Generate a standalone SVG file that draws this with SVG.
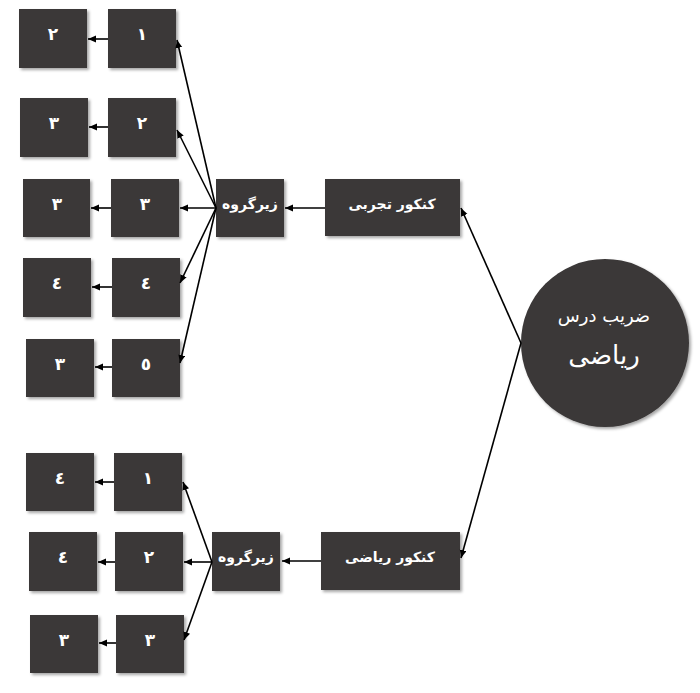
<svg xmlns="http://www.w3.org/2000/svg" width="700" height="693" viewBox="0 0 700 693">
<defs>
<filter id="sh" x="-20%" y="-20%" width="150%" height="150%">
<feDropShadow dx="2" dy="2" stdDeviation="1.8" flood-color="#000" flood-opacity="0.35"/>
</filter>
<marker id="ah" markerWidth="9" markerHeight="8" refX="8" refY="3.5" orient="auto" markerUnits="userSpaceOnUse">
<path d="M0,0 L8,3.5 L0,7 z" fill="#000"/>
</marker>
<style>
.b{fill:#3a3737;filter:url(#sh)}
.t{fill:#fff;font-family:"DejaVu Sans",sans-serif;font-weight:bold;font-size:14px;text-anchor:middle}
.d{fill:#fff;font-family:"DejaVu Sans",sans-serif;font-weight:bold;font-size:17px;text-anchor:middle}
.c line{stroke:#000;stroke-width:1.6;marker-end:url(#ah)}
.ct{fill:#fff;font-family:"DejaVu Sans",sans-serif;text-anchor:middle}
</style>
</defs>
<rect width="700" height="693" fill="#fff"/>

<g id="root">
<circle cx="605" cy="343" r="84" fill="#3a3737" filter="url(#sh)"/>
<text class="ct" x="604" y="322" font-size="18" direction="rtl">ضریب درس</text>
<text class="ct" x="604" y="364" font-size="26" direction="rtl">ریاضی</text>
</g>

<g id="tajrobi"><rect class="b" x="325" y="179" width="135" height="57"/><text class="t" x="392" y="209" direction="rtl">کنکور تجربی</text></g>
<g id="riazi"><rect class="b" x="321" y="532" width="139" height="58"/><text class="t" x="390" y="562" direction="rtl">کنکور ریاضی</text></g>

<g id="zir1"><rect class="b" x="216" y="179" width="68" height="58"/><text class="t" x="250" y="209" direction="rtl">زیرگروه</text></g>
<g id="zir2"><rect class="b" x="212" y="532" width="68" height="59"/><text class="t" x="246" y="562" direction="rtl">زیرگروه</text></g>

<g id="t1"><rect class="b" x="108" y="9" width="68" height="59"/><text class="d" x="142" y="40">١</text></g>
<g id="t1v"><rect class="b" x="19" y="9" width="68" height="59"/><text class="d" x="53" y="40">٢</text></g>
<g id="t2"><rect class="b" x="108" y="98" width="68" height="59"/><text class="d" x="142" y="129">٢</text></g>
<g id="t2v"><rect class="b" x="20" y="98" width="68" height="59"/><text class="d" x="54" y="129">٣</text></g>
<g id="t3"><rect class="b" x="111" y="179" width="68" height="58"/><text class="d" x="145" y="210">٣</text></g>
<g id="t3v"><rect class="b" x="23" y="179" width="67" height="58"/><text class="d" x="57" y="210">٣</text></g>
<g id="t4"><rect class="b" x="112" y="258" width="68" height="59"/><text class="d" x="146" y="289">٤</text></g>
<g id="t4v"><rect class="b" x="23" y="258" width="68" height="59"/><text class="d" x="57" y="289">٤</text></g>
<g id="t5"><rect class="b" x="112" y="339" width="68" height="58"/><text class="d" x="146" y="370">٥</text></g>
<g id="t5v"><rect class="b" x="26" y="339" width="68" height="58"/><text class="d" x="60" y="370">٣</text></g>

<g id="r1"><rect class="b" x="114" y="453" width="68" height="58"/><text class="d" x="148" y="484">١</text></g>
<g id="r1v"><rect class="b" x="26" y="453" width="68" height="58"/><text class="d" x="60" y="484">٤</text></g>
<g id="r2"><rect class="b" x="115" y="532" width="68" height="59"/><text class="d" x="149" y="563">٢</text></g>
<g id="r2v"><rect class="b" x="29" y="532" width="68" height="59"/><text class="d" x="63" y="563">٤</text></g>
<g id="r3"><rect class="b" x="116" y="615" width="68" height="58"/><text class="d" x="150" y="646">٣</text></g>
<g id="r3v"><rect class="b" x="30" y="615" width="68" height="58"/><text class="d" x="64" y="646">٣</text></g>

<g id="connectors" class="c">
<line x1="521" y1="343" x2="461" y2="208"/>
<line x1="521" y1="343" x2="461" y2="558"/>
<line x1="325" y1="208" x2="285" y2="208"/>
<line x1="321" y1="561" x2="282" y2="561"/>
<line x1="216" y1="208" x2="177" y2="40"/>
<line x1="216" y1="208" x2="177" y2="130"/>
<line x1="216" y1="208" x2="180" y2="208"/>
<line x1="216" y1="208" x2="180" y2="283"/>
<line x1="216" y1="208" x2="180" y2="363"/>
<line x1="108" y1="39" x2="88" y2="39"/>
<line x1="108" y1="127" x2="89" y2="127"/>
<line x1="111" y1="208" x2="91" y2="208"/>
<line x1="112" y1="287" x2="92" y2="287"/>
<line x1="112" y1="367" x2="95" y2="367"/>
<line x1="212" y1="562" x2="183" y2="482"/>
<line x1="212" y1="562" x2="184" y2="562"/>
<line x1="212" y1="562" x2="184" y2="640"/>
<line x1="114" y1="482" x2="95" y2="482"/>
<line x1="115" y1="562" x2="98" y2="562"/>
<line x1="116" y1="643" x2="99" y2="643"/>
</g>
</svg>
